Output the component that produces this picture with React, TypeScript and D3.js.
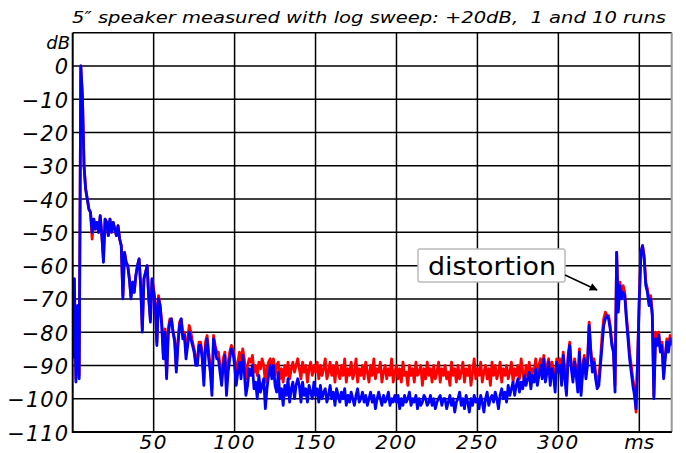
import React from "react";
import * as d3 from "d3";

const TITLE = "5\u2033 speaker measured with log sweep: +20dB,  1 and 10 runs";
const Y_TICKS = [0, -10, -20, -30, -40, -50, -60, -70, -80, -90, -100, -110];
const Y_GRID = [10, 0, -10, -20, -30, -40, -50, -60, -70, -80, -90, -100, -110];
const X_TICKS = [50, 100, 150, 200, 250, 300];
const X_GRID = [50, 100, 150, 200, 250, 300, 350];
const X_UNIT_AT = 350;
const STEP_MS = 1;

// 10 runs (red), one value per ms from 0 to 370
const RED = [
  -86, -64, -94, -72, -93, 0, -9, -30, -37, -40,
  -43, -44, -52, -46, -49, -47, -50, -45, -51, -58,
  -46, -47, -51, -46, -50, -47, -49, -51, -48, -52,
  -54, -69, -56, -59, -60, -64, -69, -65, -68, -63,
  -60, -58, -66, -79, -64, -62, -60, -70, -76, -64,
  -67, -71, -83, -69, -72, -77, -87, -79, -93, -79,
  -76, -76, -80, -82, -91, -83, -77, -76, -80, -80,
  -86, -82, -78, -80, -83, -85, -88, -89, -83, -83,
  -86, -94, -83, -81, -86, -90, -97, -81, -84, -86,
  -86, -90, -93, -88, -86, -96, -89, -86, -84, -85,
  -88, -92, -89, -86, -90, -85, -88, -94, -90, -88,
  -89, -87, -92, -90, -93, -89, -91, -88, -90, -95,
  -91, -89, -88, -91, -88, -93, -90, -89, -94, -91,
  -95, -90, -93, -89, -94, -91, -89, -92, -90, -88,
  -91, -94, -89, -92, -90, -95, -91, -89, -93, -90,
  -92, -89, -94, -90, -93, -91, -88, -94, -92, -89,
  -93, -90, -95, -89, -92, -94, -90, -93, -88, -95,
  -91, -93, -89, -94, -92, -88, -95, -91, -93, -90,
  -94, -89, -92, -95, -90, -93, -88, -94, -91, -92,
  -89, -95, -92, -90, -94, -91, -93, -88, -95, -92,
  -90, -94, -91, -95, -89, -93, -92, -96, -90, -93,
  -91, -95, -89, -93, -92, -90, -96, -91, -94, -89,
  -93, -91, -95, -90, -94, -92, -89, -95, -91, -93,
  -90, -94, -92, -96, -89, -93, -91, -95, -90, -94,
  -92, -89, -95, -91, -93, -90, -96, -92, -88, -94,
  -91, -93, -89, -95, -92, -90, -94, -91, -96, -89,
  -93, -90, -94, -92, -89, -95, -91, -93, -90, -94,
  -92, -89, -95, -91, -93, -90, -94, -88, -92, -95,
  -90, -93, -89, -94, -91, -92, -88, -95, -90, -88,
  -92, -87, -93, -90, -88, -94, -89, -91, -95, -88,
  -90, -88, -94, -86, -92, -97, -87, -83, -90, -93,
  -88, -91, -96, -85, -98, -90, -87, -92, -89, -77,
  -85, -90, -88, -92, -95, -94, -88, -81, -76, -74,
  -75, -75, -78, -83, -85, -96, -56, -73, -65, -69,
  -66, -68, -75, -80, -86, -90, -94, -97, -104, -87,
  -69, -56, -54, -57, -65, -67, -71, -69, -74, -99,
  -80, -83, -80, -85, -83, -93, -87, -82, -85, -81, -83,
];

// 1 run (blue), one value per ms from 0 to 370
const BLUE = [
  -88, -64, -95, -72, -94, 0, -9, -30, -37, -40,
  -43, -44, -50, -46, -49, -47, -50, -45, -51, -59,
  -46, -47, -51, -46, -50, -47, -49, -51, -48, -52,
  -54, -70, -56, -59, -60, -64, -70, -65, -68, -63,
  -60, -58, -66, -80, -64, -62, -60, -70, -77, -64,
  -68, -72, -84, -70, -72, -78, -88, -80, -94, -81,
  -77, -76, -80, -83, -92, -84, -78, -76, -82, -81,
  -88, -84, -80, -82, -84, -86, -90, -90, -84, -84,
  -88, -96, -85, -82, -88, -92, -99, -82, -85, -88,
  -88, -92, -96, -90, -87, -99, -92, -88, -85, -86,
  -90, -96, -92, -89, -94, -87, -92, -99, -96, -91,
  -93, -90, -97, -95, -100, -93, -98, -96, -94, -103,
  -97, -93, -90, -94, -90, -96, -98, -92, -100, -97,
  -102, -96, -99, -94, -101, -97, -95, -100, -96, -94,
  -96, -101, -95, -99, -97, -101, -96, -98, -100, -95,
  -99, -97, -101, -96, -100, -98, -97, -101, -99, -96,
  -100, -98, -102, -97, -99, -101, -98, -100, -97, -102,
  -99, -101, -98, -100, -102, -99, -97, -101, -100, -98,
  -101, -99, -102, -100, -98, -101, -99, -103, -100, -98,
  -100, -102, -99, -101, -100, -98, -102, -100, -101, -99,
  -101, -99, -103, -100, -102, -99, -101, -100, -98, -102,
  -100, -101, -99, -103, -100, -102, -101, -99, -100, -102,
  -101, -99, -102, -100, -103, -101, -100, -99, -102, -100,
  -100, -103, -101, -99, -102, -100, -104, -101, -100, -98,
  -102, -100, -103, -99, -101, -104, -100, -102, -99, -101,
  -100, -103, -99, -101, -104, -100, -98, -102, -100, -99,
  -101, -98, -100, -103, -99, -97, -100, -98, -101, -96,
  -99, -97, -95, -99, -96, -94, -98, -95, -97, -93,
  -96, -94, -92, -97, -93, -95, -91, -96, -93, -90,
  -94, -88, -95, -92, -89, -96, -91, -93, -98, -89,
  -92, -90, -96, -87, -94, -99, -88, -84, -91, -95,
  -89, -93, -98, -86, -99, -92, -88, -94, -90, -78,
  -86, -92, -89, -94, -97, -96, -90, -84, -78, -76,
  -75, -76, -79, -84, -86, -98, -56, -74, -66, -70,
  -68, -69, -76, -82, -88, -92, -96, -99, -103, -88,
  -70, -56, -54, -58, -66, -68, -72, -70, -75, -100,
  -82, -84, -81, -86, -84, -94, -88, -83, -86, -82, -84,
];

const ANNOTATION = "distortion";

const W = 686;
const H = 453;
const FONT = "'DejaVu Sans', Verdana, sans-serif";

export default function App() {
  const x = d3.scaleLinear().domain([0, 370]).range([72.7, 671.7]);
  const y = d3.scaleLinear().domain([-110, 10]).range([432, 32.7]);

  const line = d3
    .line<number>()
    .x((_, i) => x(i * STEP_MS))
    .y((d) => y(d))
    .curve(d3.curveLinear);

  const [x0, x1] = x.range();
  const [yb, yt] = y.range();

  return (
    <svg
      width={W}
      height={H}
      viewBox={`0 0 ${W} ${H}`}
      style={{ position: "absolute", left: 0, top: 0, background: "#fff" }}
    >
      <defs>
        <clipPath id="plot">
          <rect x={x0} y={yt} width={x1 - x0} height={yb - yt} />
        </clipPath>
        <marker
          id="arrow"
          viewBox="0 0 10 10"
          refX="9"
          refY="5"
          markerWidth="10"
          markerHeight="8"
          markerUnits="userSpaceOnUse"
          orient="auto"
        >
          <path d="M0,0 L10,5 L0,10 z" fill="#000" />
        </marker>
      </defs>

      <text
        x={72}
        y={23}
        fontFamily={FONT}
        fontStyle="italic"
        fontSize={16}
        textLength={594}
        lengthAdjust="spacingAndGlyphs"
        fill="#000"
        style={{ whiteSpace: "pre" }}
      >
        {TITLE}
      </text>

      {/* grid */}
      {Y_GRID.map((v) => (
        <line key={"gy" + v} x1={x0} x2={x1} y1={y(v)} y2={y(v)} stroke="#000" strokeWidth={1.5} />
      ))}
      {X_GRID.map((v) => (
        <line key={"gx" + v} x1={x(v)} x2={x(v)} y1={yt} y2={yb} stroke="#000" strokeWidth={1.5} />
      ))}
      <line x1={x1} x2={x1} y1={yt} y2={yb} stroke="#999" strokeWidth={2} />

      {/* data */}
      <g clipPath="url(#plot)">
        <path d={line(RED) || ""} fill="none" stroke="#ff0000" strokeWidth={2.8} strokeLinejoin="round" />
        <path d={line(BLUE) || ""} fill="none" stroke="#0000ff" strokeWidth={2.8} strokeLinejoin="round" />
      </g>

      {/* axes */}
      <line x1={x0} x2={x0} y1={yt} y2={yb + 1} stroke="#000" strokeWidth={2} />
      <line x1={x0} x2={x1} y1={yb} y2={yb} stroke="#000" strokeWidth={2} />

      {/* y labels */}
      <text x={70} y={49} fontFamily={FONT} fontStyle="italic" fontSize={18} textAnchor="end" fill="#000">
        dB
      </text>
      {Y_TICKS.map((v) => (
        <text
          key={"ty" + v}
          x={69}
          y={y(v) + 8.5}
          fontFamily={FONT}
          fontStyle="italic"
          fontSize={21}
          letterSpacing={1}
          textAnchor="end"
          fill="#000"
        >
          {v < 0 ? "\u2212" + Math.abs(v) : String(v)}
        </text>
      ))}

      {/* x labels */}
      {X_TICKS.map((v) => (
        <text
          key={"tx" + v}
          x={x(v)}
          y={449}
          fontFamily={FONT}
          fontStyle="italic"
          fontSize={20}
          letterSpacing={1.5}
          textAnchor="middle"
          fill="#000"
        >
          {v}
        </text>
      ))}
      <text x={x(X_UNIT_AT)} y={449} fontFamily={FONT} fontStyle="italic" fontSize={20} textAnchor="middle" fill="#000">
        ms
      </text>

      {/* annotation */}
      <rect x={418} y={249} width={147} height={33} rx={2} fill="#fff" stroke="#bbb" strokeWidth={1.5} />
      <text
        x={428}
        y={275}
        fontFamily={FONT}
        fontSize={25}
        textLength={128}
        lengthAdjust="spacingAndGlyphs"
        fill="#000"
      >
        {ANNOTATION}
      </text>
      <line x1={565} y1={275} x2={597} y2={290} stroke="#000" strokeWidth={1.5} markerEnd="url(#arrow)" />
    </svg>
  );
}
